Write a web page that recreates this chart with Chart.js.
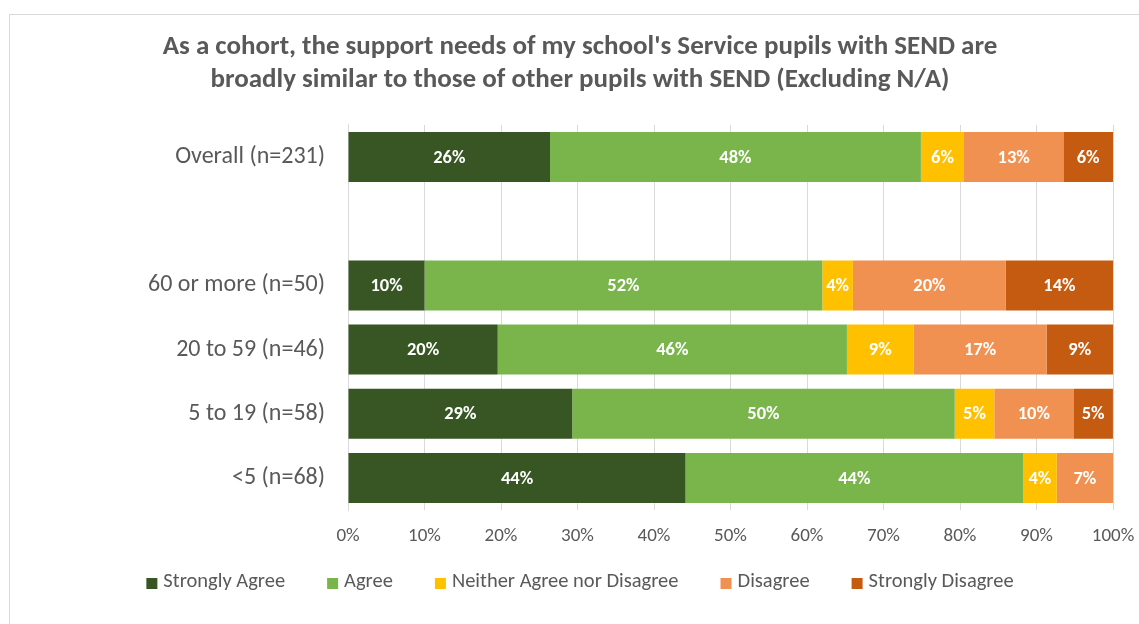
<!DOCTYPE html>
<html>
<head>
<meta charset="utf-8">
<script src="https://cdn.jsdelivr.net/npm/chart.js@4.4.0/dist/chart.umd.min.js"></script>
<style>
    body { margin: 0; overflow: hidden; background: #fff; }
    #wrap { position: relative; width: 1139px; height: 624px; }
    #frame { position: absolute; left: 9px; top: 14px; width: 1200px; height: 700px; border: 1px solid #d9d9d9; }
    #chart { position: absolute; left: 0; top: 0; }
</style>
</head>
<body>
<div id="wrap">
    <div id="frame"></div>
    <canvas id="chart" width="1139" height="624"></canvas>
</div>
<script>
// categories (blank one leaves the gap under "Overall")
const categorias = ["Overall (n=231)", "", "60 or more (n=50)", "20 to 59 (n=46)", "5 to 19 (n=58)", "<5 (n=68)"];

// percentages per response
const stronglyAgree = [26.41, null, 10, 19.57, 29.31, 44.12];
const agree = [48.48, null, 52, 45.65, 50.00, 44.12];
const neither = [5.63, null, 4, 8.70, 5.17, 4.41];
const disagree = [12.99, null, 20, 17.39, 10.34, 7.35];
const stronglyDisagree = [6.49, null, 14, 8.70, 5.17, 0];

const ticksX = [0, 10, 20, 30, 40, 50, 60, 70, 80, 90, 100];

const fuente = "Carlito, Calibri, Lato, sans-serif";
const gris = "#595959";

// white percent labels centred on each segment
const etiquetas = {
    id: "etiquetas",
    afterDatasetsDraw(chart) {
        let ctx = chart.ctx;
        ctx.save();
        ctx.fillStyle = "#ffffff";
        ctx.font = "bold 18.5px " + fuente;
        ctx.textAlign = "center";
        ctx.textBaseline = "middle";
        chart.data.datasets.forEach((ds, i) => {
            let meta = chart.getDatasetMeta(i);
            meta.data.forEach((bar, j) => {
                let v = ds.data[j];
                if (v === null || v <= 0) return;
                let p = bar.getCenterPoint();
                ctx.fillText(Math.round(v) + "%", p.x, p.y + 1);
            });
        });
        ctx.restore();
    },
};

// legend row under the axis: small squares, tight gap to text, wide gap between items
const leyenda = {
    id: "leyenda",
    afterDraw(chart) {
        let ctx = chart.ctx;
        let caja = 11, hueco = 6, separacion = 42, centroX = 580, y = 582;
        ctx.save();
        ctx.font = "20.5px " + fuente;
        ctx.textBaseline = "middle";
        ctx.textAlign = "left";
        let items = chart.data.datasets.map(ds => ({
            texto: ds.label,
            color: ds.backgroundColor,
            ancho: caja + hueco + ctx.measureText(ds.label).width,
        }));
        let total = items.reduce((s, it) => s + it.ancho, 0) + separacion * (items.length - 1);
        let x = centroX - total / 2;
        items.forEach(it => {
            ctx.fillStyle = it.color;
            ctx.fillRect(x, y - 4, caja, caja);
            ctx.fillStyle = gris;
            ctx.fillText(it.texto, x + caja + hueco, y);
            x += it.ancho + separacion;
        });
        ctx.restore();
    },
};

let ctx = document.getElementById("chart").getContext("2d");
let myChart = new Chart(ctx, {
    type: "bar",
    data: {
        labels: categorias,
        datasets: [
            { label: "Strongly Agree", data: stronglyAgree, backgroundColor: "#375623" },
            { label: "Agree", data: agree, backgroundColor: "#7ab54c" },
            { label: "Neither Agree nor Disagree", data: neither, backgroundColor: "#ffc000" },
            { label: "Disagree", data: disagree, backgroundColor: "#f09152" },
            { label: "Strongly Disagree", data: stronglyDisagree, backgroundColor: "#c55a11" },
        ],
    },
    options: {
        indexAxis: "y",
        responsive: false,
        animation: false,
        categoryPercentage: 1,
        barPercentage: 0.78,
        layout: { padding: { left: 47, right: 26, top: 0, bottom: 74 } },
        scales: {
            x: {
                stacked: true,
                min: 0,
                max: 100,
                afterBuildTicks(scale) {
                    scale.ticks = ticksX.map(v => ({ value: v }));
                },
                afterFit(scale) {
                    scale.height = 40;
                    scale.paddingLeft = 0;
                    scale.paddingRight = 0;
                },
                grid: { color: "#d9d9d9", drawTicks: false },
                border: { display: false },
                ticks: {
                    color: gris,
                    padding: 15,
                    font: { family: fuente, size: 19 },
                    callback: v => v + "%",
                },
            },
            y: {
                stacked: true,
                afterFit(scale) { scale.width = 301; },
                grid: { display: false, drawTicks: false },
                border: { color: "#d9d9d9" },
                ticks: {
                    color: gris,
                    padding: 23,
                    font: { family: fuente, size: 24 },
                },
            },
        },
        plugins: {
            title: {
                display: true,
                text: [
                    "As a cohort, the support needs of my school's Service pupils with SEND are",
                    "broadly similar to those of other pupils with SEND (Excluding N/A)",
                ],
                color: gris,
                font: { family: fuente, size: 27, weight: "bold", lineHeight: 1.222 },
                padding: { top: 30.5, bottom: 28.5 },
            },
            legend: { display: false },
            tooltip: { enabled: false },
        },
    },
    plugins: [etiquetas, leyenda],
});
</script>
</body>
</html>
